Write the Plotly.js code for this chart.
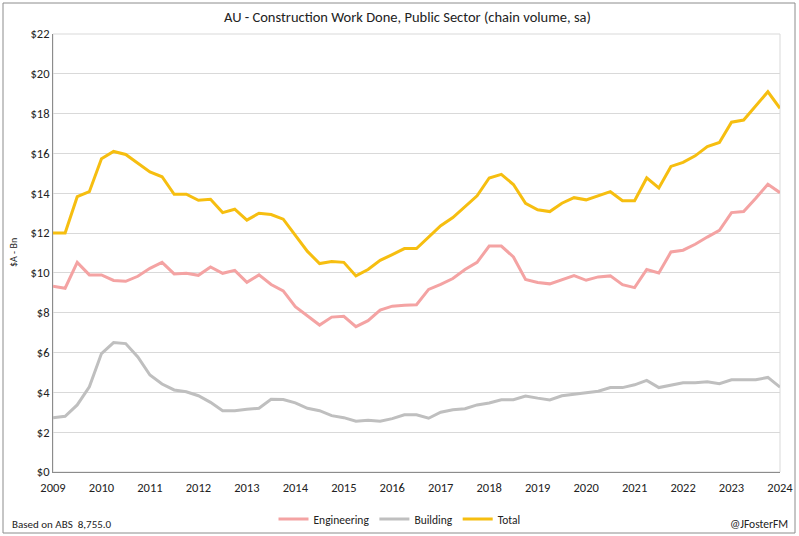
<!DOCTYPE html>
<html>
<head>
<meta charset="utf-8">
<script src="https://cdn.plot.ly/plotly-3.0.1.min.js"></script>
<style>
html,body{margin:0;padding:0;background:#fff;}
#chart{width:799px;height:536px;}
</style>
</head>
<body>
<div id="chart"></div>
<script>
// Quarterly observations, 2009 to 2024 (61 quarters)
const startYear = 2009;
const engineering = [
  9.33, 9.23, 10.53, 9.9, 9.9, 9.62, 9.58, 9.83, 10.23, 10.53,
  9.95, 9.98, 9.88, 10.3, 9.98, 10.13, 9.53, 9.9, 9.42, 9.1,
  8.3, 7.83, 7.38, 7.78, 7.82, 7.3, 7.6, 8.13, 8.33, 8.37,
  8.4, 9.17, 9.42, 9.72, 10.17, 10.53, 11.35, 11.35, 10.8, 9.67,
  9.52, 9.45, 9.67, 9.87, 9.63, 9.8, 9.85, 9.41, 9.26, 10.17,
  10.0, 11.05, 11.14, 11.44, 11.8, 12.14, 13.03, 13.08, 13.75, 14.45,
  14.03
];
const building = [
  2.73, 2.8, 3.37, 4.28, 5.95, 6.5, 6.45, 5.78, 4.87, 4.42,
  4.12, 4.03, 3.83, 3.5, 3.08, 3.08, 3.15, 3.2, 3.65, 3.64,
  3.47, 3.2, 3.08, 2.83, 2.73, 2.55, 2.6, 2.55, 2.68, 2.87,
  2.87, 2.7, 3.0, 3.13, 3.18, 3.37, 3.47, 3.63, 3.63, 3.82,
  3.71, 3.62, 3.83, 3.91, 4.01, 4.06, 4.24, 4.24, 4.38, 4.6,
  4.24, 4.36, 4.48, 4.48, 4.53, 4.43, 4.63, 4.63, 4.63, 4.75,
  4.26
];
const total = [
  12.0, 12.0, 13.83, 14.08, 15.73, 16.1, 15.95, 15.53, 15.07, 14.83,
  13.95, 13.95, 13.65, 13.7, 13.03, 13.2, 12.65, 13.0, 12.93, 12.7,
  11.92, 11.08, 10.47, 10.57, 10.53, 9.85, 10.17, 10.63, 10.92, 11.22,
  11.22, 11.79, 12.37, 12.78, 13.33, 13.87, 14.77, 14.95, 14.44, 13.49,
  13.17, 13.08, 13.5, 13.78, 13.67, 13.88, 14.08, 13.63, 13.63, 14.77,
  14.27, 15.35, 15.55, 15.88, 16.35, 16.55, 17.57, 17.68, 18.38, 19.1,
  18.27
];
const yearTicks = [2009,2010,2011,2012,2013,2014,2015,2016,2017,2018,2019,2020,2021,2022,2023,2024];
const yTickVals = [0,2,4,6,8,10,12,14,16,18,20,22];
const yTickText = yTickVals.map(v => '$' + v);
const quarters = engineering.map((_, i) => startYear + i * 0.25);

const font = 'Carlito, Calibri, Lato, "Open Sans", sans-serif';

const traces = [
  {x: quarters, y: engineering, name: 'Engineering', type: 'scatter', mode: 'lines',
   line: {color: '#F4A3A3', width: 3}},
  {x: quarters, y: building, name: 'Building', type: 'scatter', mode: 'lines',
   line: {color: '#BFBFBF', width: 3}},
  {x: quarters, y: total, name: 'Total', type: 'scatter', mode: 'lines',
   line: {color: '#F6BE10', width: 3}}
];

const layout = {
  width: 799, height: 536,
  margin: {l: 53, r: 19, t: 34, b: 64, autoexpand: false},
  paper_bgcolor: '#fff', plot_bgcolor: '#fff',
  font: {family: font, size: 12, color: '#222'},
  title: {text: 'AU - Construction Work Done, Public Sector (chain volume, sa)',
          x: 0.51, xanchor: 'center', y: 0.968, yanchor: 'middle',
          font: {family: font, size: 14.5, color: '#222'}},
  showlegend: true,
  legend: {orientation: 'h', x: 0.5, xanchor: 'center', xref: 'container',
           y: 1 - 519 / 536, yanchor: 'middle', yref: 'container',
           bgcolor: 'rgba(0,0,0,0)',
           font: {family: font, size: 11.5, color: '#222'}, itemwidth: 30, tracegroupgap: 0},
  xaxis: {range: [2009, 2024], tickvals: yearTicks, ticktext: yearTicks.map(String),
          showgrid: false, zeroline: false, showline: true, linecolor: '#8c8c8c', linewidth: 1,
          ticks: 'outside', ticklen: 4, tickcolor: 'rgba(0,0,0,0)',
          tickfont: {family: font, size: 12.5, color: '#222'}, fixedrange: true},
  yaxis: {range: [0, 22], tickvals: yTickVals, ticktext: yTickText,
          showgrid: true, gridcolor: '#d9d9d9', gridwidth: 1, zeroline: false,
          showline: true, linecolor: '#8c8c8c', linewidth: 1, ticks: '',
          tickfont: {family: font, size: 12.5, color: '#222'}, fixedrange: true},
  shapes: [
    {type: 'rect', xref: 'paper', yref: 'paper', x0: 0, x1: 1, y0: 0, y1: 1,
     line: {color: '#d9d9d9', width: 1}, layer: 'below'},
    {type: 'rect', xref: 'paper', yref: 'paper',
     x0: (3 - 53) / 727, x1: (795 - 53) / 727, y0: (472 - 533) / 438, y1: (472 - 3) / 438,
     line: {color: '#8c8c8c', width: 1}, layer: 'below'}
  ],
  annotations: [
    {text: '$A - Bn', xref: 'paper', yref: 'paper', x: (13 - 53) / 727, y: 0.5,
     xanchor: 'center', yanchor: 'middle', textangle: -90, showarrow: false,
     font: {family: font, size: 10, color: '#222'}},
    {text: 'Based on ABS  8,755.0', xref: 'paper', yref: 'paper', x: (10 - 53) / 727,
     y: (472 - 524) / 438, xanchor: 'left', yanchor: 'middle', showarrow: false,
     font: {family: font, size: 11, color: '#222'}},
    {text: '@JFosterFM', xref: 'paper', yref: 'paper', x: (790 - 53) / 727,
     y: (472 - 524) / 438, xanchor: 'right', yanchor: 'middle', showarrow: false,
     font: {family: font, size: 11.5, color: '#222'}}
  ]
};

Plotly.newPlot('chart', traces, layout, {displayModeBar: false, staticPlot: true});
</script>
</body>
</html>
